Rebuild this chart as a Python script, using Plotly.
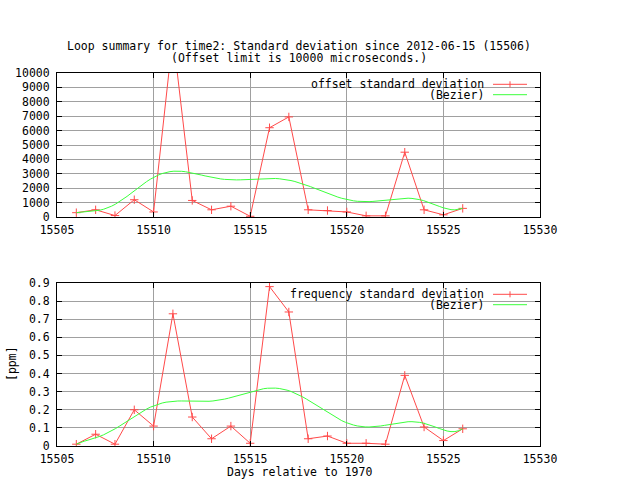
import math
import numpy as np
import plotly.graph_objects as go

days = list(range(15506, 15527))
offset_sd = [300, 500, 100, 1200, 350, 12600, 1150, 500, 750, 50, 6200,
             6950, 500, 450, 350, 80, 80, 4500, 500, 150, 600]
freq_sd = [0.01, 0.065, 0.01, 0.2, 0.11, 0.73, 0.16, 0.04, 0.11, 0.015, 0.88,
           0.74, 0.04, 0.055, 0.015, 0.015, 0.01, 0.39, 0.105, 0.03, 0.095]

title1 = "Loop summary for time2: Standard deviation since 2012-06-15 (15506)"
title2 = "(Offset limit is 10000 microseconds.)"
x_title = "Days relative to 1970"
y2_title = "[ppm]"
top_key = ["offset standard deviation", "(Bezier)"]
bot_key = ["frequency standard deviation", "(Bezier)"]


def bezier(xs, ys, samples=100):
    xs = np.asarray(xs, float)
    ys = np.asarray(ys, float)
    n = len(xs) - 1
    t = np.linspace(0, 1, samples)
    bx = np.zeros_like(t)
    by = np.zeros_like(t)
    for k in range(n + 1):
        b = math.comb(n, k) * t ** k * (1 - t) ** (n - k)
        bx += b * xs[k]
        by += b * ys[k]
    return bx, by


RED = "#ff4a4a"
GREEN = "#3cff3c"
GRID = "#a0a0a0"
FONT = dict(family="DejaVu Sans Mono", size=11.5, color="black")

fig = go.Figure()

bx1, by1 = bezier(days, offset_sd)
bx2, by2 = bezier(days, freq_sd)

marker = dict(symbol="cross-thin", size=6, line=dict(width=1, color=RED), color=RED)

fig.add_trace(go.Scatter(x=days, y=offset_sd, mode="lines+markers", name=top_key[0],
                         line=dict(color=RED, width=1), marker=marker,
                         xaxis="x", yaxis="y", showlegend=False, cliponaxis=True))
fig.add_trace(go.Scatter(x=bx1, y=by1, mode="lines", name="(Bezier)",
                         line=dict(color=GREEN, width=1),
                         xaxis="x", yaxis="y", showlegend=False))
fig.add_trace(go.Scatter(x=days, y=freq_sd, mode="lines+markers", name=bot_key[0],
                         line=dict(color=RED, width=1), marker=marker,
                         xaxis="x2", yaxis="y2", showlegend=False, cliponaxis=True))
fig.add_trace(go.Scatter(x=bx2, y=by2, mode="lines", name="(Bezier)",
                         line=dict(color=GREEN, width=1),
                         xaxis="x2", yaxis="y2", showlegend=False))

# pixel helpers for layout placement (plot area 57..540 x 73..446)
L, R, T, B = 57, 540, 73, 446


def px(x):
    return (x - L) / (R - L)


def py(y):
    return 1 - (y - T) / (B - T)


axis_common = dict(showline=True, linecolor="black", linewidth=1, mirror="ticks",
                   ticks="inside", ticklen=5, tickcolor="black", tickwidth=1,
                   showgrid=True, gridcolor=GRID, gridwidth=1, zeroline=False,
                   tickfont=FONT, automargin=False)

fig.update_layout(
    width=640, height=480,
    margin=dict(l=L, r=640 - R, t=T, b=480 - B),
    plot_bgcolor="white", paper_bgcolor="white",
    font=FONT,
    xaxis=dict(domain=[0, 1], range=[15505, 15530], dtick=5, tick0=15505,
               tickformat="d", anchor="y", ticklabelstandoff=2, **axis_common),
    yaxis=dict(domain=[py(217), 1], range=[0, 10000], dtick=1000, tickformat="d",
               anchor="x", ticklabelstandoff=4, **axis_common),
    xaxis2=dict(domain=[0, 1], range=[15505, 15530], dtick=5, tick0=15505,
                tickformat="d", anchor="y2", ticklabelstandoff=2, **axis_common),
    yaxis2=dict(domain=[0, py(283)], range=[0, 0.9], dtick=0.1,
                anchor="x2", ticklabelstandoff=4, **axis_common),
)

ann = []
ann.append(dict(text=title1, x=px(299), y=py(45.5), xref="paper", yref="paper",
                showarrow=False, xanchor="center", yanchor="middle", font=FONT))
ann.append(dict(text=title2, x=px(299), y=py(57.5), xref="paper", yref="paper",
                showarrow=False, xanchor="center", yanchor="middle", font=FONT))
ann.append(dict(text=x_title, x=px(299), y=py(472), xref="paper", yref="paper",
                showarrow=False, xanchor="center", yanchor="middle", font=FONT))
ann.append(dict(text=y2_title, x=px(12), y=py(364), xref="paper", yref="paper",
                showarrow=False, xanchor="center", yanchor="middle", textangle=-90,
                font=FONT))

shapes = []
# key boxes (opaque, covering grid only)
shapes.append(dict(type="rect", xref="paper", yref="paper", x0=px(309), x1=px(539.5),
                   y0=py(100), y1=py(73.5), fillcolor="white", line=dict(width=0),
                   layer="between"))
shapes.append(dict(type="rect", xref="paper", yref="paper", x0=px(290), x1=px(539.5),
                   y0=py(309), y1=py(283.5), fillcolor="white", line=dict(width=0),
                   layer="between"))

for keys, rows in ((top_key, (84.3, 94.7)), (bot_key, (294.3, 304.7))):
    for i, (label, ry) in enumerate(zip(keys, rows)):
        ann.append(dict(text=label, x=px(486), y=py(ry), xref="paper", yref="paper",
                        showarrow=False, xanchor="right", yanchor="middle", font=FONT))
        color = RED if i == 0 else GREEN
        shapes.append(dict(type="line", xref="paper", yref="paper", x0=px(493), x1=px(527),
                           y0=py(ry), y1=py(ry), line=dict(color=color, width=1),
                           layer="above"))
        if i == 0:
            shapes.append(dict(type="line", xref="paper", yref="paper", x0=px(510), x1=px(510),
                               y0=py(ry - 3), y1=py(ry + 3), line=dict(color=color, width=1),
                               layer="above"))

fig.update_layout(annotations=ann, shapes=shapes)

fig.write_html("out.html", config={"displayModeBar": False},
               post_script="document.body.style.margin='0';document.body.style.overflow='hidden';")
